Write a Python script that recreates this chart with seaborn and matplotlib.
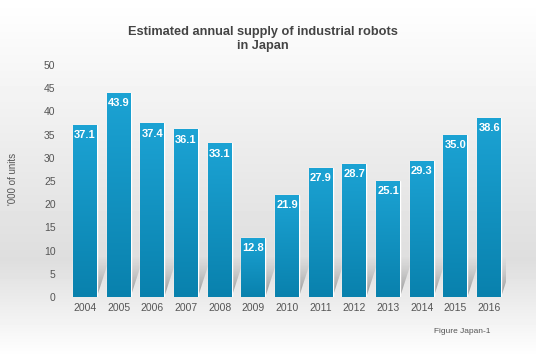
import numpy as np
import pandas as pd
import matplotlib
matplotlib.use("Agg")
import matplotlib.pyplot as plt
import seaborn as sns
from matplotlib.colors import LinearSegmentedColormap
from matplotlib.patches import Polygon

years = ["2004", "2005", "2006", "2007", "2008", "2009", "2010",
         "2011", "2012", "2013", "2014", "2015", "2016"]
supply = [37.1, 43.9, 37.4, 36.1, 33.1, 12.8, 21.9, 27.9, 28.7, 25.1, 29.3, 35.0, 38.6]
yticks = [0, 5, 10, 15, 20, 25, 30, 35, 40, 45, 50]

df = pd.DataFrame({"year": years, "supply": supply})

sns.set_theme(style="white")
plt.rcParams['font.family'] = ['Liberation Sans', 'DejaVu Sans']

fig = plt.figure(figsize=(5.36, 3.57), dpi=100)

# background gradient
bg = fig.add_axes([0, 0, 1, 1], zorder=-10)
grad = np.concatenate([np.linspace(1.0, 0.87, 260), np.linspace(0.87, 1.0, 97)])
bg.imshow(np.tile(grad[:, None], (1, 2)), aspect='auto', cmap='gray', vmin=0, vmax=1,
          extent=[0, 1, 0, 1], origin='upper')
bg.set_axis_off()

ax = fig.add_axes([0.127, 0.168, 0.817, 0.65])
ax.patch.set_alpha(0)
sns.barplot(data=df, x="year", y="supply", color="#1898c7", width=0.71, ax=ax,
            saturation=1, zorder=3)

cmap = LinearSegmentedColormap.from_list("b", ["#0981ad", "#1ca3d4"])
shcmap = LinearSegmentedColormap.from_list("s", [(0.45, 0.45, 0.45, 0.75), (0.6, 0.6, 0.6, 0.0)])
gradimg = np.linspace(0, 1, 256)[:, None]
for p in list(ax.patches):
    x0, y0 = p.get_x(), p.get_y()
    w, h = p.get_width(), p.get_height()
    # decorative floor shadow
    sh_h = min(8.5, h)
    dx = 0.38 * sh_h / 8.5
    poly = Polygon([(x0, 0), (x0 + w, 0), (x0 + w + dx, sh_h), (x0 + dx, sh_h)],
                   closed=True, facecolor='none', edgecolor='none')
    ax.add_patch(poly)
    sim = ax.imshow(gradimg, aspect='auto', cmap=shcmap, origin='lower',
                    extent=[x0, x0 + w + dx, 0, sh_h], zorder=1)
    sim.set_clip_path(poly)
    im = ax.imshow(gradimg, aspect='auto', cmap=cmap, origin='lower',
                   extent=[x0, x0 + w, y0, y0 + h], zorder=4)
    im.set_clip_path(p)
    ax.text(x0 + w / 2, h - 1.1, f"{h:.1f}", ha='center', va='top', color='white',
            fontsize=8, fontweight='bold', zorder=6)

ax.set_xlim(-0.5, 12.5)
ax.set_ylim(0, 50)
ax.set_yticks(yticks)
ax.set_yticklabels([str(t) for t in yticks])
ax.tick_params(axis='both', length=0, labelsize=7.5, colors='#555555')
ax.tick_params(axis='y', pad=9)
ax.tick_params(axis='x', pad=4)
for s in ax.spines.values():
    s.set_visible(False)
ax.set_xlabel("")
ax.set_ylabel("")
ax.grid(False)

fig.text(0.491, 0.891, "Estimated annual supply of industrial robots\nin Japan",
         ha='center', va='center', fontsize=9.2, fontweight='bold', color='#444444',
         linespacing=1.25)
fig.text(0.024, 0.5, "'000 of units", rotation=90, ha='center', va='center',
         fontsize=7, color='#555555')
fig.text(0.916, 0.072, "Figure Japan-1", ha='right', va='center', fontsize=6,
         color='#555555')

fig.savefig("out.png", dpi=100)
